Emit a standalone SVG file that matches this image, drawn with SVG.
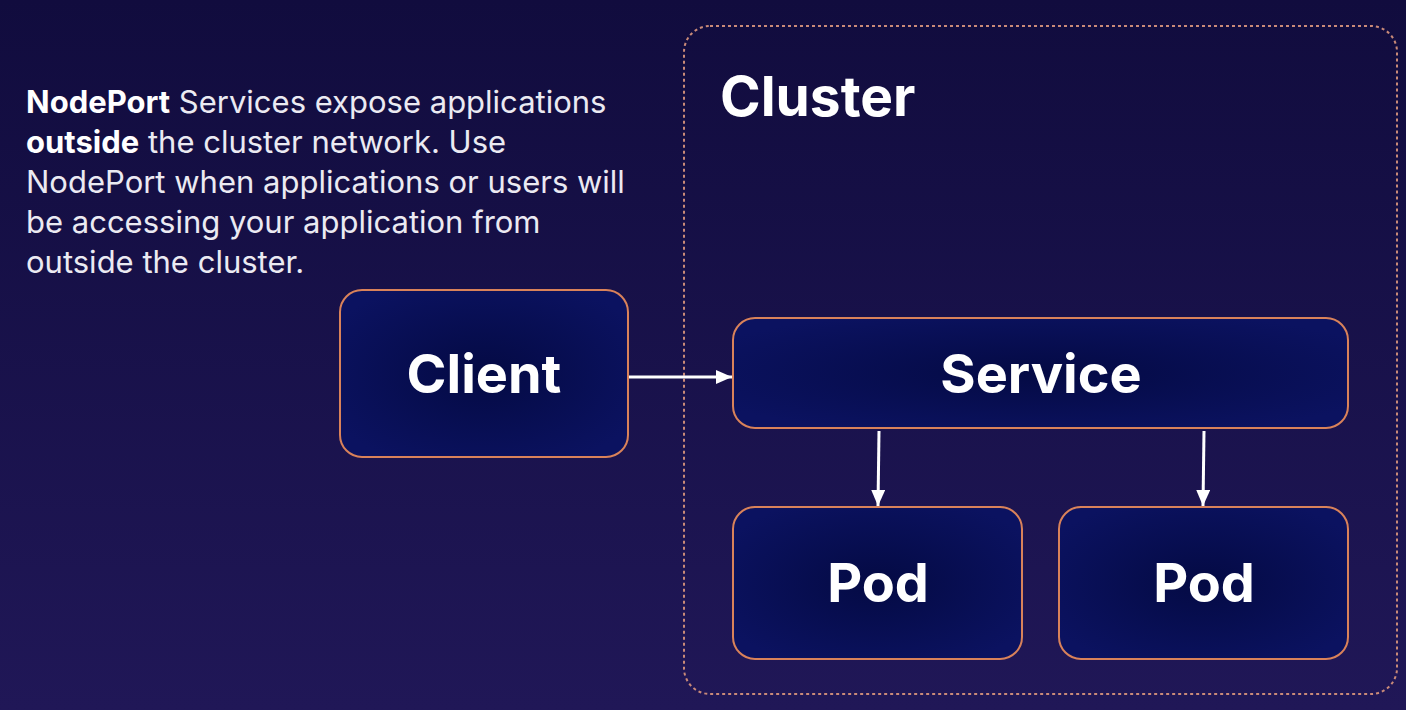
<svg xmlns="http://www.w3.org/2000/svg" width="1406" height="710" viewBox="0 0 1406 710">
<defs>
<linearGradient id="bg" x1="0" y1="0" x2="0" y2="1">
<stop offset="0" stop-color="#110c3e"/>
<stop offset="1" stop-color="#201757"/>
</linearGradient>
<radialGradient id="nodefill" cx="0.5" cy="0.5" r="0.6">
<stop offset="0" stop-color="#040a44"/>
<stop offset="1" stop-color="#0b1260"/>
</radialGradient>
<marker id="arrowL" markerWidth="16" markerHeight="14" refX="16" refY="7" orient="auto" markerUnits="userSpaceOnUse" viewBox="0 0 16 14">
<path d="M0,0 L16,7 L0,14 Z" fill="#ffffff"/>
</marker>
</defs>
<style>
.node{fill:url(#nodefill);stroke:#d9825a;stroke-width:2}
.label{font-family:Inter,"Liberation Sans",sans-serif;font-weight:700;fill:#ffffff;text-anchor:middle;font-size:54px}
.para{font-family:Inter,"Liberation Sans",sans-serif;font-size:31px;fill:#ebeaf2}
.conn{stroke:#ffffff;stroke-width:3;fill:none}
</style>
<rect x="0" y="0" width="1406" height="710" fill="url(#bg)"/>
<g id="cluster">
<rect x="684" y="26" width="713" height="668" rx="26" ry="26" fill="none" stroke="#c98a78" stroke-width="2" stroke-dasharray="3 3"/>
<text x="720" y="116" font-family="Inter,'Liberation Sans',sans-serif" font-weight="700" font-size="55" fill="#ffffff">Cluster</text>
</g>
<g id="description">
<text class="para" x="26" y="113"><tspan font-weight="700" fill="#ffffff">NodePort</tspan> Services expose applications</text>
<text class="para" x="26" y="153"><tspan font-weight="700" fill="#ffffff">outside</tspan> the cluster network. Use</text>
<text class="para" x="26" y="193">NodePort when applications or users will</text>
<text class="para" x="26" y="233">be accessing your application from</text>
<text class="para" x="26" y="273">outside the cluster.</text>
</g>
<g id="client">
<rect class="node" x="340" y="290" width="288" height="167" rx="22" ry="22"/>
<text class="label" x="484" y="393">Client</text>
</g>
<g id="service">
<rect class="node" x="733" y="318" width="615" height="110" rx="22" ry="22"/>
<text class="label" x="1041" y="393">Service</text>
</g>
<g id="pod1">
<rect class="node" x="733" y="507" width="289" height="152" rx="22" ry="22"/>
<text class="label" x="878" y="602">Pod</text>
</g>
<g id="pod2">
<rect class="node" x="1059" y="507" width="289" height="152" rx="22" ry="22"/>
<text class="label" x="1204" y="602">Pod</text>
</g>
<g id="connectors">
<line class="conn" x1="629" y1="377" x2="732" y2="377" marker-end="url(#arrowL)"/>
<line class="conn" x1="879" y1="431" x2="878" y2="506" marker-end="url(#arrowL)"/>
<line class="conn" x1="1204" y1="431" x2="1203" y2="506" marker-end="url(#arrowL)"/>
</g>
</svg>
